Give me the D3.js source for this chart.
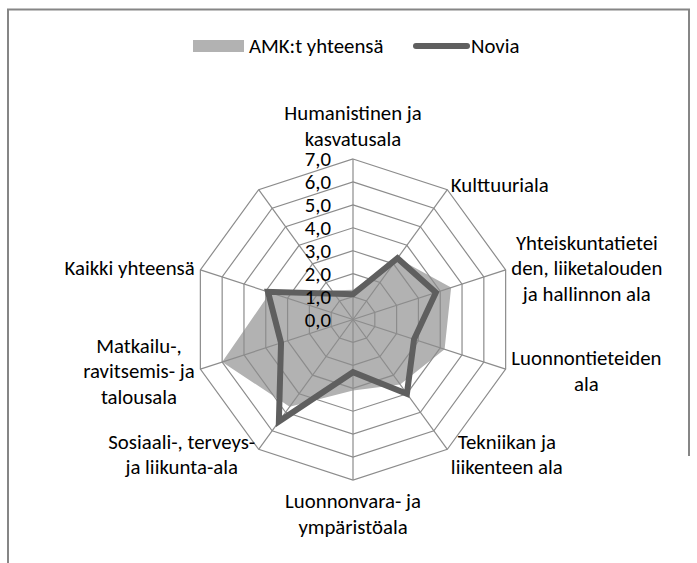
<!DOCTYPE html>
<html>
<head>
<meta charset="utf-8">
<script src="https://cdn.jsdelivr.net/npm/d3@7"></script>
<style>
  body { margin: 0; background: #fff; }
  svg { display: block; font-family: Carlito, Calibri, Lato, sans-serif; }
</style>
</head>
<body>
<svg id="chart" width="697" height="563"></svg>
<script>
// categories (line breaks as in the original), last axis has no label / no data
var categories = [
  "Humanistinen ja\nkasvatusala",
  "Kulttuuriala",
  "Yhteiskuntatietei\nden, liiketalouden\nja hallinnon ala",
  "Luonnontieteiden\nala",
  "Tekniikan ja\nliikenteen ala",
  "Luonnonvara- ja\nympäristöala",
  "Sosiaali-, terveys-\nja liikunta-ala",
  "Matkailu-,\nravitsemis- ja\ntalousala",
  "Kaikki yhteensä",
  ""
];
var amk   = [1.3, 3.3, 4.5, 4.2, 3.5, 3.1, 4.7, 6.0, 3.8, null];
var novia = [1.1, 3.3, 3.8, 2.8, 4.0, 2.3, 5.5, 3.3, 3.9, null];
var ticks = [0, 1, 2, 3, 4, 5, 6, 7];
var seriesNames = ["AMK:t yhteensä", "Novia"];

var svg = d3.select("#chart");
var cx = 353, cy = 319.5, R = 160.5;
var fs = 20.8;

var r = d3.scaleLinear().domain([0, 7]).range([0, R]);
var angle = d3.scaleLinear().domain([0, categories.length]).range([0, 2 * Math.PI]);
var fmt = d3.formatLocale({decimal: ",", thousands: " ", grouping: [3], currency: ["", ""]}).format(".1f");

// frame
svg.append("path")
   .attr("d", "M8,563V9.5H689V456")
   .attr("fill", "none")
   .attr("stroke", "#868686")
   .attr("stroke-width", 2);

var g = svg.append("g").attr("transform", "translate(" + cx + "," + cy + ")");

function pts(vals) {
  var out = [];
  vals.forEach(function(v, i) { if (v != null) out.push([angle(i), r(v)]); });
  return out;
}
var radial = d3.lineRadial().curve(d3.curveLinearClosed);

// filled series
g.append("path")
 .attr("d", radial(pts(amk)))
 .attr("fill", "#b2b2b2");

// grid rings
var idx = d3.range(categories.length);
ticks.slice(1).forEach(function(t) {
  g.append("path")
   .attr("d", radial(idx.map(function(i) { return [angle(i), r(t)]; })))
   .attr("fill", "none")
   .attr("stroke", "#8c8c8c")
   .attr("stroke-width", 1.2);
});
// spokes
g.selectAll(".spoke")
 .data(idx)
 .enter().append("line")
 .attr("class", "spoke")
 .attr("x1", 0).attr("y1", 0)
 .attr("x2", function(i) { return r(7) * Math.sin(angle(i)); })
 .attr("y2", function(i) { return -r(7) * Math.cos(angle(i)); })
 .attr("stroke", "#8c8c8c")
 .attr("stroke-width", 1.2);

// line series
g.append("path")
 .attr("d", radial(pts(novia)))
 .attr("fill", "none")
 .attr("stroke", "#5f5f5f")
 .attr("stroke-width", 6)
 .attr("stroke-linejoin", "miter");

// tick labels
g.selectAll(".tick")
 .data(ticks)
 .enter().append("text")
 .attr("class", "tick")
 .attr("x", -22)
 .attr("y", function(d) { return -r(d); })
 .attr("dy", "0.35em")
 .attr("text-anchor", "end")
 .attr("font-size", fs)
 .attr("fill", "#000")
 .text(function(d) { return fmt(d); });

// category labels
var lineH = 25.5, gap = 6;
categories.forEach(function(c, i) {
  if (!c) return;
  var a = angle(i), s = Math.sin(a), co = Math.cos(a);
  var px = (R + gap) * s, py = -(R + gap) * co;
  var lines = c.split("\n");
  var t = g.append("text").attr("font-size", fs).attr("fill", "#000").attr("text-anchor", "middle");
  var tsp = t.selectAll("tspan").data(lines).enter().append("tspan").text(function(d) { return d; });
  var w = d3.max(tsp.nodes(), function(n) { return n.getComputedTextLength(); });
  var h = lines.length * lineH;
  var bx, by;
  if (Math.abs(s) < 0.1) bx = px; else if (s > 0) bx = px + w / 2; else bx = px - w / 2;
  if (co > 0.95) by = py - h / 2 - 2;
  else if (co < -0.95) by = py + h / 2 + 2;
  else by = py;
  tsp.attr("x", bx)
     .attr("y", function(d, j) { return by - h / 2 + lineH * (j + 0.5); })
     .attr("dy", "0.35em");
});

// legend
var leg = svg.append("g");
leg.append("rect").attr("x", 193).attr("y", 40).attr("width", 51).attr("height", 12).attr("fill", "#b2b2b2");
leg.append("text").attr("x", 249).attr("y", 46).attr("dy", "0.35em").attr("font-size", fs).text(seriesNames[0]);
leg.append("line").attr("x1", 416).attr("x2", 467).attr("y1", 46).attr("y2", 46)
   .attr("stroke", "#5f5f5f").attr("stroke-width", 6).attr("stroke-linecap", "round");
leg.append("text").attr("x", 471).attr("y", 46).attr("dy", "0.35em").attr("font-size", fs).text(seriesNames[1]);
</script>
</body>
</html>
